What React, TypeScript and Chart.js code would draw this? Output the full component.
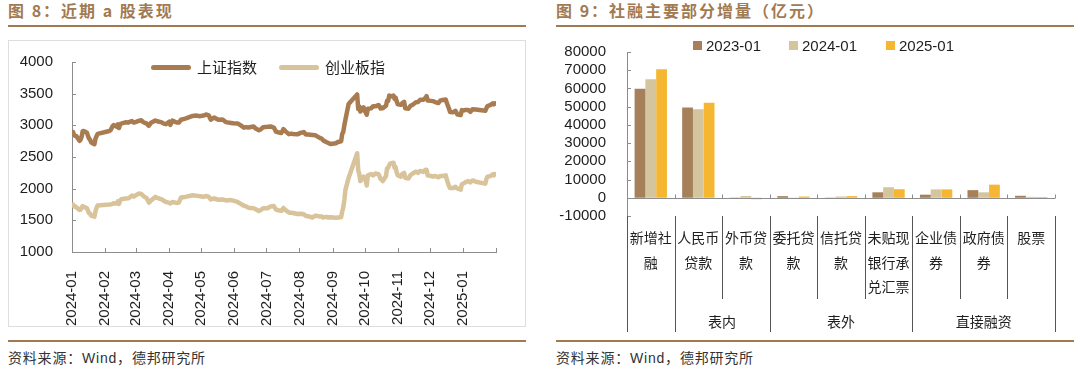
import React, { useEffect, useRef } from 'react';
import { Chart, registerables } from 'chart.js';

Chart.register(...registerables);

const NUM_FONT = "'Liberation Sans', Arial, sans-serif";
const CJK_FONT = "'Noto Sans CJK SC', 'Noto Sans', sans-serif";
const BROWN = '#a27a52';
const AXIS_COLOR = '#8c8c8c';
const TEXT_COLOR = '#1e1e1e';

// ---------- Figure 8: recent A-share performance ----------
const lineStart = '2024-01-15';
const lineDates = [
  '2024-01-15','2024-01-16','2024-01-17','2024-01-18','2024-01-19','2024-01-22','2024-01-23','2024-01-24','2024-01-25','2024-01-26','2024-01-29','2024-01-30','2024-01-31',
  '2024-02-01','2024-02-02','2024-02-05','2024-02-06','2024-02-07','2024-02-08','2024-02-19','2024-02-20','2024-02-21','2024-02-22','2024-02-23','2024-02-26','2024-02-27','2024-02-28','2024-02-29',
  '2024-03-01','2024-03-05','2024-03-08','2024-03-11','2024-03-13','2024-03-15','2024-03-18','2024-03-20','2024-03-22','2024-03-25','2024-03-27','2024-03-29',
  '2024-04-02','2024-04-03','2024-04-08','2024-04-10','2024-04-12','2024-04-15','2024-04-16','2024-04-18','2024-04-22','2024-04-24','2024-04-26','2024-04-30',
  '2024-05-07','2024-05-10','2024-05-14','2024-05-17','2024-05-20','2024-05-22','2024-05-24','2024-05-27','2024-05-31',
  '2024-06-04','2024-06-07','2024-06-12','2024-06-14','2024-06-18','2024-06-21','2024-06-24','2024-06-26','2024-06-28',
  '2024-07-03','2024-07-05','2024-07-08','2024-07-10','2024-07-12','2024-07-16','2024-07-19','2024-07-22','2024-07-24','2024-07-26','2024-07-29','2024-07-31',
  '2024-08-02','2024-08-05','2024-08-07','2024-08-09','2024-08-13','2024-08-16','2024-08-19','2024-08-21','2024-08-23','2024-08-27','2024-08-30',
  '2024-09-03','2024-09-05','2024-09-06','2024-09-09','2024-09-11','2024-09-13','2024-09-18','2024-09-20','2024-09-23','2024-09-24','2024-09-25','2024-09-26','2024-09-27','2024-09-30',
  '2024-10-08','2024-10-09','2024-10-10','2024-10-11','2024-10-14','2024-10-16','2024-10-17','2024-10-18','2024-10-21','2024-10-23','2024-10-25','2024-10-28','2024-10-30','2024-10-31',
  '2024-11-01','2024-11-04','2024-11-05','2024-11-06','2024-11-07','2024-11-08','2024-11-11','2024-11-12','2024-11-13','2024-11-14','2024-11-15','2024-11-18','2024-11-19','2024-11-21','2024-11-22','2024-11-25','2024-11-27','2024-11-29',
  '2024-12-02','2024-12-04','2024-12-06','2024-12-09','2024-12-10','2024-12-11','2024-12-12','2024-12-13','2024-12-16','2024-12-18','2024-12-20','2024-12-23','2024-12-25','2024-12-27','2024-12-30','2024-12-31',
  '2025-01-02','2025-01-03','2025-01-06','2025-01-08','2025-01-10','2025-01-13','2025-01-14','2025-01-16','2025-01-17','2025-01-20','2025-01-22','2025-01-24','2025-01-27',
  '2025-02-05','2025-02-06','2025-02-07','2025-02-10','2025-02-12','2025-02-13','2025-02-14',
];
const sseValues = [
  2886,2893,2845,2833,2832,2756,2770,2820,2906,2910,2883,2830,2789,
  2771,2730,2702,2789,2829,2866,2910,2922,2951,2988,3004,2977,3015,2957,3015,
  3027,3048,3046,3068,3043,3054,3073,3079,3048,3026,2993,3041,
  3075,3069,3047,3027,3019,3057,3007,3074,3045,3044,3088,3105,
  3148,3154,3145,3154,3171,3158,3089,3124,3087,
  3091,3051,3037,3032,3030,2998,2963,2972,2967,
  2982,2949,2922,2939,2971,2976,2982,2965,2901,2891,2879,2939,
  2905,2861,2869,2862,2858,2880,2893,2856,2855,2848,2842,
  2802,2788,2765,2736,2721,2704,2717,2737,2748,2864,2897,3001,3088,3336,
  3489,3258,3301,3217,3284,3202,3169,3261,3268,3302,3300,3322,3266,3279,
  3272,3310,3387,3383,3470,3452,3470,3421,3439,3380,3331,3324,3346,3370,3268,3263,3309,3326,
  3364,3368,3404,3402,3422,3432,3461,3392,3386,3382,3368,3352,3394,3400,3407,3352,
  3262,3211,3206,3230,3169,3161,3240,3236,3241,3244,3213,3253,3250,
  3229,3270,3303,3322,3346,3332,3346,
];
const chinextValues = [
  1742,1750,1720,1722,1705,1665,1668,1700,1725,1715,1690,1650,1610,
  1605,1575,1558,1640,1700,1735,1750,1752,1755,1760,1770,1765,1800,1760,1810,
  1832,1845,1848,1890,1875,1900,1925,1915,1880,1850,1780,1815,
  1870,1860,1830,1810,1790,1775,1765,1790,1775,1780,1860,1870,
  1895,1890,1880,1870,1885,1870,1830,1845,1825,
  1830,1815,1820,1810,1790,1760,1730,1720,1700,
  1690,1675,1645,1665,1690,1690,1720,1725,1670,1660,1650,1695,
  1660,1625,1620,1615,1600,1605,1595,1570,1565,1545,1575,
  1560,1560,1545,1555,1545,1550,1540,1545,1550,1640,1700,1820,1980,2170,
  2560,2290,2230,2120,2190,2130,2050,2210,2230,2210,2240,2230,2150,2140,
  2120,2200,2320,2330,2370,2400,2410,2330,2340,2260,2210,2190,2230,2250,2170,2160,2215,2240,
  2270,2250,2280,2265,2285,2300,2295,2210,2200,2190,2200,2180,2200,2200,2210,2140,
  2040,2010,2010,2030,2000,1985,2070,2085,2100,2120,2100,2130,2110,
  2080,2150,2190,2200,2225,2210,2230,
];
const lineSeriesNames = ['上证指数', '创业板指'];
const lineColors = ['#a87c50', '#d8c39a'];
const axisTickDates = ['2024-01-15','2024-02-15','2024-03-15','2024-04-15','2024-05-15','2024-06-15','2024-07-15','2024-08-15','2024-09-15','2024-10-15','2024-11-15','2024-12-15','2025-01-15','2025-02-15'];
const axisTickLabels = ['2024-01','2024-02','2024-03','2024-04','2024-05','2024-06','2024-07','2024-08','2024-09','2024-10','2024-11','2024-12','2025-01',''];
const lineYMin = 1000;
const lineYMax = 4000;
const lineYStep = 500;

// ---------- Figure 9: TSF components ----------
const tsfCategories = ['新增社融','人民币贷款','外币贷款','委托贷款','信托贷款','未贴现银行承兑汇票','企业债券','政府债券','股票'];
const tsfGroups = ['', '表内', '表外', '直接融资'];
const tsfGroupSpans = [1, 2, 3, 3];
const tsfSeriesNames = ['2023-01', '2024-01', '2025-01'];
const tsf2023 = [59800, 49500, -300, 900, -300, 3000, 1700, 4200, 1100];
const tsf2024 = [65000, 48600, 1000, -500, 700, 5800, 4600, 3000, 500];
const tsf2025 = [70600, 52100, -800, 700, 900, 4700, 4600, 7200, 400];
const tsfColors = ['#a5805a', '#d5c59e', '#f5b732'];
const barYMin = -10000;
const barYMax = 80000;
const barYStep = 10000;

const dayIndex = (d: string) => Math.round((Date.parse(d) - Date.parse(lineStart)) / 86400000);

function chunk(s: string, n: number): string[] {
  const out: string[] = [];
  for (let i = 0; i < s.length; i += n) out.push(s.slice(i, i + n));
  return out;
}

function LineChart() {
  const ref = useRef<HTMLCanvasElement>(null);
  useEffect(() => {
    const tickDays = axisTickDates.map(dayIndex);
    const labelMap = new Map<number, string>(tickDays.map((d, i) => [d, axisTickLabels[i]]));
    const inward = {
      id: 'inwardTicksLine',
      afterDraw(chart: any) {
        const { ctx, chartArea: ca, scales } = chart;
        ctx.save();
        ctx.strokeStyle = AXIS_COLOR;
        ctx.lineWidth = 1;
        ctx.beginPath();
        scales.y.ticks.forEach((t: any) => {
          const py = Math.round(scales.y.getPixelForValue(t.value)) + 0.5;
          ctx.moveTo(ca.left, py);
          ctx.lineTo(ca.left + 4, py);
        });
        scales.x.ticks.forEach((t: any) => {
          const px = Math.round(scales.x.getPixelForValue(t.value)) + 0.5;
          ctx.moveTo(px, ca.bottom);
          ctx.lineTo(px, ca.bottom - 4);
        });
        ctx.stroke();
        ctx.restore();
      },
    };
    const seriesValues = [sseValues, chinextValues];
    const chart = new Chart(ref.current as HTMLCanvasElement, {
      type: 'line',
      data: {
        datasets: lineSeriesNames.map((name, k) => ({
          label: name,
          data: lineDates.map((d, i) => ({ x: dayIndex(d), y: seriesValues[k][i] })),
          borderColor: lineColors[k],
          backgroundColor: lineColors[k],
          borderWidth: 4.5,
          pointRadius: 0,
          tension: 0,
          borderJoinStyle: 'round',
          borderCapStyle: 'round',
        })),
      },
      options: {
        responsive: false,
        animation: false,
        layout: { padding: { top: 21, right: 24, left: 0, bottom: 0 } },
        plugins: { legend: { display: false }, tooltip: { enabled: false } },
        scales: {
          x: {
            type: 'linear',
            min: 0,
            max: dayIndex(axisTickDates[axisTickDates.length - 1]),
            afterBuildTicks: (axis: any) => {
              axis.ticks = tickDays.map((v) => ({ value: v }));
            },
            afterFit: (axis: any) => {
              axis.height = 74;
            },
            grid: { display: false },
            border: { display: true, color: AXIS_COLOR, width: 1 },
            ticks: {
              autoSkip: false,
              minRotation: 90,
              maxRotation: 90,
              padding: 11,
              color: TEXT_COLOR,
              font: { family: NUM_FONT, size: 15 },
              callback: (v: any) => labelMap.get(Number(v)) ?? '',
            },
          },
          y: {
            min: lineYMin,
            max: lineYMax,
            afterFit: (axis: any) => {
              axis.width = 63;
            },
            grid: { display: false },
            border: { display: true, color: AXIS_COLOR, width: 1 },
            ticks: {
              stepSize: lineYStep,
              autoSkip: false,
              padding: 11,
              color: TEXT_COLOR,
              font: { family: NUM_FONT, size: 15 },
              callback: (v: any) => String(v),
            },
          },
        },
      } as any,
      plugins: [inward],
    });
    return () => chart.destroy();
  }, []);
  return <canvas ref={ref} width={516} height={285} style={{ position: 'absolute', left: 9, top: 41 }} />;
}

function BarChart() {
  const ref = useRef<HTMLCanvasElement>(null);
  useEffect(() => {
    const table = {
      id: 'tsfTable',
      afterDraw(chart: any) {
        const { ctx, chartArea: ca, scales } = chart;
        const n = tsfCategories.length;
        const w = (ca.right - ca.left) / n;
        const y0 = Math.round(scales.y.getPixelForValue(0)) + 0.5;
        ctx.save();
        ctx.strokeStyle = AXIS_COLOR;
        ctx.lineWidth = 1;
        ctx.beginPath();
        ctx.moveTo(ca.left, y0);
        ctx.lineTo(ca.right, y0);
        for (let i = 0; i <= n; i++) {
          const bx = Math.round(ca.left + i * w) + 0.5;
          ctx.moveTo(bx, y0);
          ctx.lineTo(bx, y0 - 4);
        }
        scales.y.ticks.forEach((t: any) => {
          const py = Math.round(scales.y.getPixelForValue(t.value)) + 0.5;
          ctx.moveTo(ca.left, py);
          ctx.lineTo(ca.left + 4, py);
        });
        ctx.stroke();
        const longB = new Set<number>([0]);
        let acc = 0;
        tsfGroupSpans.forEach((s) => {
          acc += s;
          longB.add(acc);
        });
        ctx.strokeStyle = '#555';
        ctx.beginPath();
        for (let i = 0; i <= n; i++) {
          const bx = Math.round(ca.left + i * w) + 0.5;
          const len = longB.has(i) ? 116 : 83;
          ctx.moveTo(bx, ca.bottom);
          ctx.lineTo(bx, ca.bottom + len);
        }
        ctx.stroke();
        ctx.fillStyle = TEXT_COLOR;
        ctx.textAlign = 'center';
        ctx.textBaseline = 'middle';
        ctx.font = `14px ${CJK_FONT}`;
        tsfCategories.forEach((c, i) => {
          const cx = scales.x.getPixelForValue(i);
          chunk(c, 3).forEach((line, j) => {
            ctx.fillText(line, cx, ca.bottom + 22 + j * 24.5);
          });
        });
        let start = 0;
        tsfGroups.forEach((g, k) => {
          const span = tsfGroupSpans[k];
          const cx = ca.left + (start + span / 2) * w;
          if (g) ctx.fillText(g, cx, ca.bottom + 106);
          start += span;
        });
        ctx.restore();
      },
    };
    const series = [tsf2023, tsf2024, tsf2025];
    const chart = new Chart(ref.current as HTMLCanvasElement, {
      type: 'bar',
      data: {
        labels: tsfCategories,
        datasets: tsfSeriesNames.map((name, k) => ({
          label: name,
          data: series[k],
          backgroundColor: tsfColors[k],
          borderWidth: 0,
          barPercentage: 1,
          categoryPercentage: 0.68,
        })),
      },
      options: {
        responsive: false,
        animation: false,
        layout: { padding: { top: 15, right: 25, left: 0, bottom: 119 } },
        plugins: { legend: { display: false }, tooltip: { enabled: false } },
        scales: {
          x: { display: false },
          y: {
            min: barYMin,
            max: barYMax,
            afterFit: (axis: any) => {
              axis.width = 87;
            },
            grid: { display: false },
            border: { display: true, color: AXIS_COLOR, width: 1 },
            ticks: {
              stepSize: barYStep,
              autoSkip: false,
              padding: 13,
              color: TEXT_COLOR,
              font: { family: NUM_FONT, size: 15 },
              callback: (v: any) => String(v),
            },
          },
        },
      } as any,
      plugins: [table],
    });
    return () => chart.destroy();
  }, []);
  return <canvas ref={ref} width={540} height={305} style={{ position: 'absolute', left: 540, top: 30 }} />;
}

const abs = (left: number, top: number, extra: React.CSSProperties = {}): React.CSSProperties => ({
  position: 'absolute',
  left,
  top,
  ...extra,
});

export default function App() {
  const titleStyle: React.CSSProperties = {
    fontFamily: CJK_FONT,
    fontWeight: 700,
    fontSize: 16,
    lineHeight: '18px',
    letterSpacing: 2,
    color: BROWN,
    whiteSpace: 'nowrap',
  };
  const sourceStyle: React.CSSProperties = {
    fontFamily: `'Liberation Sans', ${CJK_FONT}`,
    fontSize: 14,
    lineHeight: '18px',
    letterSpacing: 0.8,
    color: '#333',
    whiteSpace: 'nowrap',
  };
  const legendText: React.CSSProperties = {
    fontFamily: CJK_FONT,
    fontSize: 15,
    lineHeight: '18px',
    color: TEXT_COLOR,
    whiteSpace: 'nowrap',
  };
  const barLegendText: React.CSSProperties = {
    fontFamily: NUM_FONT,
    fontSize: 15,
    lineHeight: '18px',
    color: TEXT_COLOR,
    whiteSpace: 'nowrap',
  };
  const lineLegendX = [151, 279];
  const barLegendX = [693, 789, 886];
  return (
    <div style={{ position: 'absolute', left: 0, top: 0, width: 1080, height: 376, background: '#fff', overflow: 'hidden' }}>
      <div style={abs(8, 1, titleStyle)}>图 8：近期 a 股表现</div>
      <div style={abs(8, 25, { width: 518, height: 2, background: BROWN })} />
      <div style={abs(8, 40, { width: 516, height: 285, border: '1px solid #dedede' })} />
      <LineChart />
      {lineSeriesNames.map((name, k) => (
        <React.Fragment key={name}>
          <div style={abs(lineLegendX[k], 64.5, { width: 40, height: 5, borderRadius: 2.5, background: lineColors[k] })} />
          <div style={abs(lineLegendX[k] + 46, 58, legendText)}>{name}</div>
        </React.Fragment>
      ))}
      <div style={abs(8, 340, { width: 518, height: 2, background: BROWN })} />
      <div style={abs(8, 349, sourceStyle)}>资料来源：Wind，德邦研究所</div>

      <div style={abs(556, 1, titleStyle)}>图 9：社融主要部分增量（亿元）</div>
      <div style={abs(556, 25, { width: 518, height: 2, background: BROWN })} />
      <BarChart />
      {tsfSeriesNames.map((name, k) => (
        <React.Fragment key={name}>
          <div style={abs(barLegendX[k], 41, { width: 9, height: 9, background: tsfColors[k] })} />
          <div style={abs(barLegendX[k] + 13, 36.5, barLegendText)}>{name}</div>
        </React.Fragment>
      ))}
      <div style={abs(556, 340, { width: 518, height: 2, background: BROWN })} />
      <div style={abs(556, 349, sourceStyle)}>资料来源：Wind，德邦研究所</div>
    </div>
  );
}
